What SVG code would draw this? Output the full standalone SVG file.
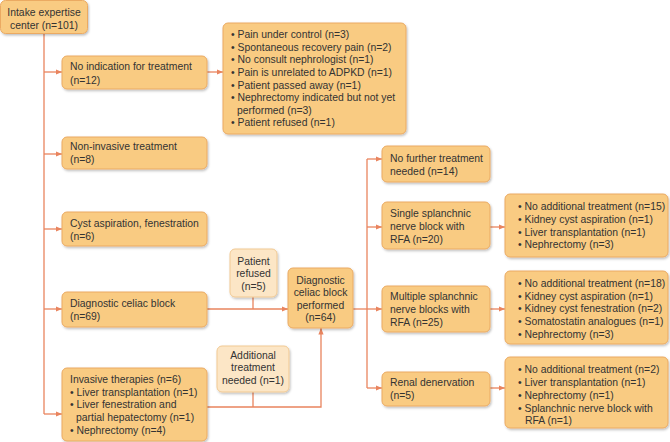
<svg xmlns="http://www.w3.org/2000/svg" width="670" height="442" viewBox="0 0 670 442">
<defs>
<marker id="ah" viewBox="0 0 10 10" refX="10" refY="5" markerWidth="5" markerHeight="5" orient="auto"><path d="M0,1 L10,5 L0,9 z" fill="#E9845E"/></marker>
<filter id="sh" x="-10%" y="-10%" width="130%" height="130%"><feDropShadow dx="1" dy="1.5" stdDeviation="1" flood-color="#000" flood-opacity="0.25"/></filter>
<style>
.b{fill:#F9CB82;stroke:#EBAA62;stroke-width:1;filter:url(#sh)}
.l{fill:#FCE6C6;stroke:#F1C993;stroke-width:1;filter:url(#sh)}
text{font-family:"Liberation Sans",Arial,sans-serif;font-size:10.4px;fill:#333}
.c{text-anchor:middle}
.k{fill:none;stroke:#E9845E;stroke-width:1.3}
.a{marker-end:url(#ah)}
</style>
</defs>
<rect width="670" height="442" fill="#fff"/>
<g id="connectors">
<path class="k" d="M44,34 V414"/>
<path class="k a" d="M44,72 H62"/>
<path class="k a" d="M44,154 H62"/>
<path class="k a" d="M44,229 H62"/>
<path class="k a" d="M44,309 H62"/>
<path class="k a" d="M44,414 H62"/>
<path class="k a" d="M207,72 H223"/>
<path class="k a" d="M207,309 H288"/>
<path class="k" d="M253,297 V309"/>
<path class="k a" d="M207,407 H321 V328"/>
<path class="k" d="M253,392 V407"/>
<path class="k" d="M353,309 H367"/>
<path class="k" d="M367,159 V388"/>
<path class="k a" d="M367,159 H382"/>
<path class="k a" d="M367,227 H382"/>
<path class="k a" d="M367,309 H382"/>
<path class="k a" d="M367,388 H382"/>
<path class="k a" d="M490,227 H505"/>
<path class="k a" d="M490,309 H505"/>
<path class="k a" d="M490,388 H505"/>
</g>
<g id="intake">
<rect class="b" x="0.5" y="0.5" width="87" height="33" rx="5"/>
<text class="c" x="44" y="16">Intake expertise</text>
<text class="c" x="44" y="29">center (n=101)</text>
</g>
<g id="no-indication">
<rect class="b" x="62" y="56" width="145" height="33" rx="5"/>
<text x="70" y="69.5">No indication for treatment</text>
<text x="70" y="83.5">(n=12)</text>
</g>
<g id="no-indication-list">
<rect class="b" x="223" y="23" width="183" height="111" rx="5"/>
<text x="231" y="37.5">• Pain under control (n=3)</text>
<text x="231" y="50.5">• Spontaneous recovery pain (n=2)</text>
<text x="231" y="63">• No consult nephrologist (n=1)</text>
<text x="231" y="75.5">• Pain is unrelated to ADPKD (n=1)</text>
<text x="231" y="88.5">• Patient passed away (n=1)</text>
<text x="231" y="101">• Nephrectomy indicated but not yet</text>
<text x="237" y="113.5">performed (n=3)</text>
<text x="231" y="126">• Patient refused (n=1)</text>
</g>
<g id="non-invasive">
<rect class="b" x="62" y="137" width="145" height="32" rx="5"/>
<text x="70" y="150">Non-invasive treatment</text>
<text x="70" y="163">(n=8)</text>
</g>
<g id="cyst">
<rect class="b" x="62" y="212" width="145" height="34" rx="5"/>
<text x="70" y="227">Cyst aspiration, fenestration</text>
<text x="70" y="240">(n=6)</text>
</g>
<g id="diag-block">
<rect class="b" x="62" y="292" width="145" height="35" rx="5"/>
<text x="70" y="307">Diagnostic celiac block</text>
<text x="70" y="319.5">(n=69)</text>
</g>
<g id="invasive">
<rect class="b" x="62" y="368" width="145" height="73" rx="5"/>
<text x="70" y="382.5">Invasive therapies (n=6)</text>
<text x="70" y="395.5">• Liver transplantation (n=1)</text>
<text x="70" y="408">• Liver fenestration and</text>
<text x="76" y="420.5">partial hepatectomy (n=1)</text>
<text x="70" y="433.5">• Nephrectomy (n=4)</text>
</g>
<g id="patient-refused">
<rect class="l" x="230" y="249" width="47" height="48" rx="5"/>
<text class="c" x="253.5" y="264.5">Patient</text>
<text class="c" x="253.5" y="277">refused</text>
<text class="c" x="253.5" y="289.5">(n=5)</text>
</g>
<g id="additional">
<rect class="l" x="217" y="346" width="72" height="46" rx="5"/>
<text class="c" x="253" y="358.5">Additional</text>
<text class="c" x="253" y="371">treatment</text>
<text class="c" x="253" y="383.5">needed (n=1)</text>
</g>
<g id="performed">
<rect class="b" x="288" y="268" width="65" height="60" rx="5"/>
<text class="c" x="320.5" y="283.5">Diagnostic</text>
<text class="c" x="320.5" y="296">celiac block</text>
<text class="c" x="320.5" y="308.5">performed</text>
<text class="c" x="320.5" y="321">(n=64)</text>
</g>
<g id="no-further">
<rect class="b" x="382" y="146" width="108" height="36" rx="5"/>
<text x="390" y="161.5">No further treatment</text>
<text x="390" y="174.5">needed (n=14)</text>
</g>
<g id="single">
<rect class="b" x="382" y="202" width="108" height="47" rx="5"/>
<text x="390" y="216.5">Single splanchnic</text>
<text x="390" y="229.5">nerve block with</text>
<text x="390" y="242.5">RFA (n=20)</text>
</g>
<g id="multiple">
<rect class="b" x="382" y="286" width="108" height="46" rx="5"/>
<text x="390" y="299.5">Multiple splanchnic</text>
<text x="390" y="312.5">nerve blocks with</text>
<text x="390" y="325.5">RFA (n=25)</text>
</g>
<g id="renal">
<rect class="b" x="382" y="372" width="108" height="34" rx="5"/>
<text x="390" y="385.5">Renal denervation</text>
<text x="390" y="398.5">(n=5)</text>
</g>
<g id="single-list">
<rect class="b" x="505" y="194" width="163" height="63" rx="5"/>
<text x="518" y="209.5">• No additional treatment (n=15)</text>
<text x="518" y="222.5">• Kidney cyst aspiration (n=1)</text>
<text x="518" y="235.5">• Liver transplantation (n=1)</text>
<text x="518" y="247.5">• Nephrectomy (n=3)</text>
</g>
<g id="multiple-list">
<rect class="b" x="505" y="271" width="163" height="73" rx="5"/>
<text x="518" y="286.5">• No additional treatment (n=18)</text>
<text x="518" y="299.5">• Kidney cyst aspiration (n=1)</text>
<text x="518" y="311.5">• Kidney cyst fenestration (n=2)</text>
<text x="518" y="324.5">• Somatostatin analogues (n=1)</text>
<text x="518" y="337.5">• Nephrectomy (n=3)</text>
</g>
<g id="renal-list">
<rect class="b" x="505" y="357" width="163" height="71" rx="5"/>
<text x="518" y="372.5">• No additional treatment (n=2)</text>
<text x="518" y="385.5">• Liver transplantation (n=1)</text>
<text x="518" y="398.5">• Nephrectomy (n=1)</text>
<text x="518" y="411.5">• Splanchnic nerve block with</text>
<text x="525" y="423.5">RFA (n=1)</text>
</g>
</svg>
